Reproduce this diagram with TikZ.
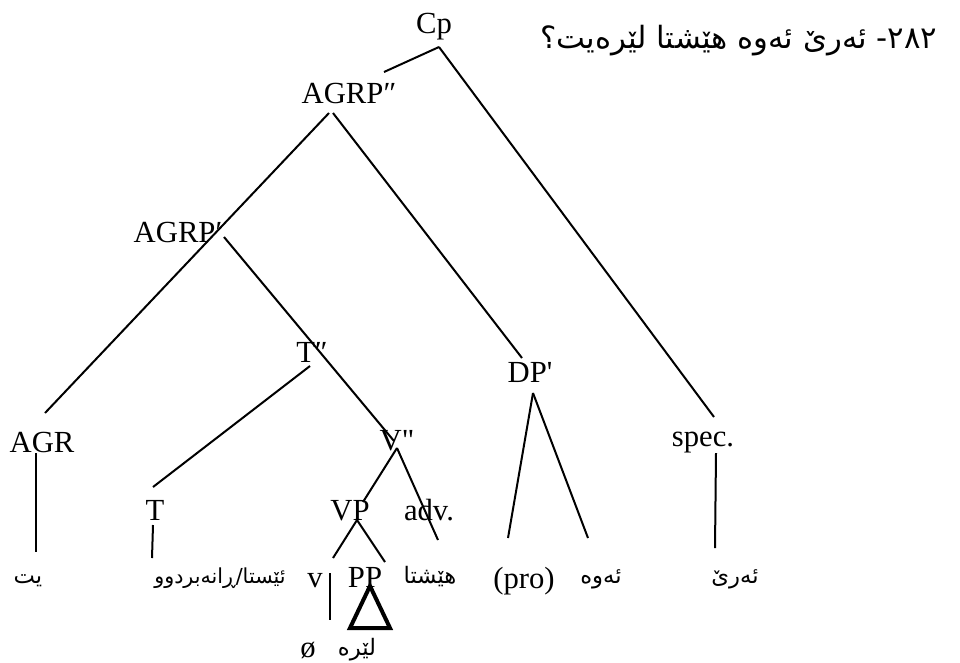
\documentclass[tikz,border=0pt]{standalone}
\usepackage{fontspec}
\setmainfont{Liberation Serif}
\newfontfamily\ku[Script=Arabic]{DejaVu Sans}
\TeXXeTstate=1
\begin{document}
\begin{tikzpicture}[x=0.75pt,y=-0.75pt,
  lbl/.style={inner sep=0pt, anchor=base, font=\fontsize{23}{27}\selectfont},
  ar/.style={inner sep=0pt, anchor=base, font=\ku\fontsize{17}{20}\selectfont},
  artitle/.style={inner sep=0pt, anchor=base west, font=\ku\fontsize{23}{27}\selectfont},
  edge/.style={line width=1.5pt},
  thickedge/.style={line width=3pt, line join=miter}]
\useasboundingbox (0,0) rectangle (960,662);
% labels
\node[lbl] (Cp) at (434,33) {Cp};
\node[lbl] (AGRPdd) at (349,103) {AGRP″};
\node[lbl] (AGRPd) at (178,242) {AGRP′};
\node[lbl] (Tdd) at (312,362) {T″};
\node[lbl] (DPd) at (530,382) {DP\textquotesingle};
\node[lbl] (AGR) at (42,452) {AGR};
\node[lbl] (Vdd) at (397,450) {V\textquotedbl};
\node[lbl] (spec) at (703,446) {spec.};
\node[lbl] (T) at (155,520) {T};
\node[lbl] (VP) at (350,520) {VP};
\node[lbl] (adv) at (429,520) {adv.};
\node[lbl] (v) at (315,587) {v};
\node[lbl] (PP) at (365,587) {PP};
\node[lbl] (pro) at (524,588) {(pro)};
\node[lbl] (oslash) at (308,657) {ø};
% arabic-script texts
\node[artitle] (title) at (540,48) {\beginR ٢٨٢- ئەرێ ئەوە هێشتا لێرەیت؟\endR};
\node[ar] (yt) at (28,583) {\beginR یت\endR};
\node[ar, font=\ku\fontsize{15.5}{18}\selectfont] (istaa) at (220,583) {\beginR ئێستا/ڕانەبردوو\endR};
\node[ar] (heshta) at (430,583) {\beginR هێشتا\endR};
\node[ar] (awa) at (601,583) {\beginR ئەوە\endR};
\node[ar] (are) at (735,583) {\beginR ئەرێ\endR};
\node[ar] (lera) at (357,655) {\beginR لێره\endR};
% connector end points
\coordinate (Cp-b) at (439,47);
\coordinate (AGRPdd-t) at (384,72);
\coordinate (spec-t) at (714,417);
\coordinate (AGRPdd-bl) at (329,113);
\coordinate (AGRPdd-br) at (333,113);
\coordinate (AGR-t) at (45,413);
\coordinate (DPd-t) at (522,358);
\coordinate (AGRPd-b) at (224,237);
\coordinate (Vdd-t) at (394,441);
\coordinate (Tdd-b) at (310,366);
\coordinate (T-t) at (153,487);
\coordinate (Vdd-b) at (397,448);
\coordinate (VP-t) at (363,502);
\coordinate (adv-b) at (438,540);
\coordinate (VP-b) at (357,520);
\coordinate (v-b) at (333,558);
\coordinate (PP-b) at (385,562);
\coordinate (vbar-t) at (330,573);
\coordinate (vbar-b) at (330,620);
\coordinate (tri-a) at (370,586);
\coordinate (tri-l) at (350,628);
\coordinate (tri-r) at (390,628);
\coordinate (DPd-b) at (533,393);
\coordinate (pro-t) at (508,538);
\coordinate (awa-t) at (588,538);
\coordinate (AGR-b) at (36,453);
\coordinate (yt-t) at (36,552);
\coordinate (T-b) at (153,525);
\coordinate (istaa-t) at (152,558);
\coordinate (spec-b) at (716,453);
\coordinate (are-t) at (715,548);
% connectors
\draw[edge] (Cp-b) -- (AGRPdd-t);
\draw[edge] (Cp-b) -- (spec-t);
\draw[edge] (AGRPdd-bl) -- (AGR-t);
\draw[edge] (AGRPdd-br) -- (DPd-t);
\draw[edge] (AGRPd-b) -- (Vdd-t);
\draw[edge] (Tdd-b) -- (T-t);
\draw[edge] (Vdd-b) -- (VP-t);
\draw[edge] (Vdd-b) -- (adv-b);
\draw[edge] (VP-b) -- (v-b);
\draw[edge] (VP-b) -- (PP-b);
\draw[edge] (vbar-t) -- (vbar-b);
\draw[thickedge] (tri-a) -- (tri-l) -- (tri-r) -- cycle;
\draw[edge] (DPd-b) -- (pro-t);
\draw[edge] (DPd-b) -- (awa-t);
\draw[edge] (AGR-b) -- (yt-t);
\draw[edge] (T-b) -- (istaa-t);
\draw[edge] (spec-b) -- (are-t);
\end{tikzpicture}
\end{document}
